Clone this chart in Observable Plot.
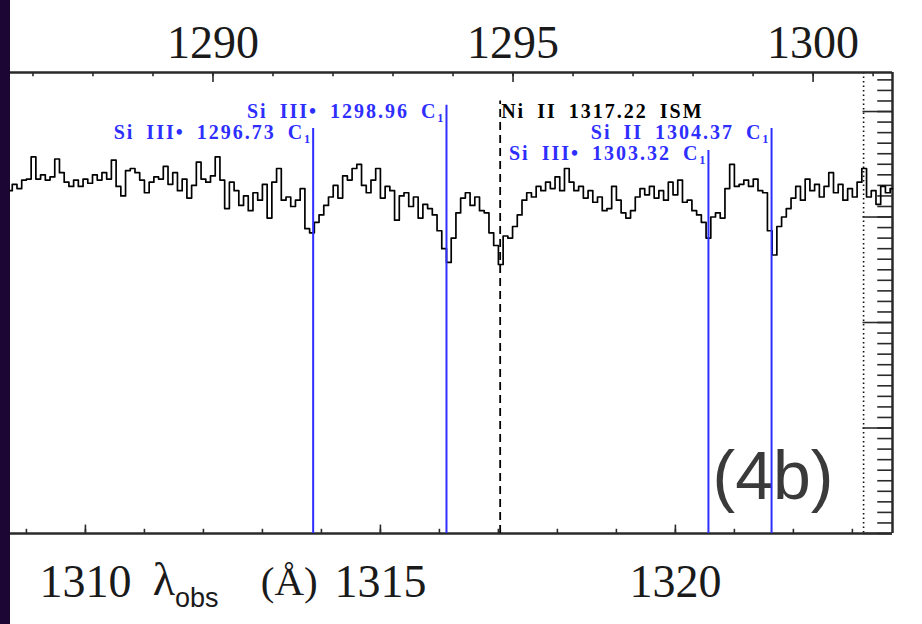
<!DOCTYPE html>
<html><head><meta charset="utf-8">
<script src="https://cdn.jsdelivr.net/npm/d3@7"></script>
<script src="https://cdn.jsdelivr.net/npm/@observablehq/plot@0.6"></script>
<style>
html,body{margin:0;padding:0;background:#1c0633;width:922px;height:624px;overflow:hidden}
#wrap{position:absolute;left:10px;top:0;width:912px;height:624px;background:#fff}
</style></head><body><div id="wrap"></div>
<script>
// ---- data ----
const lambdaStart = 1308.72;   // observed wavelength of first pixel (Å)
const lambdaStep = 0.08;       // dispersion (Å / pixel)
const flux = [
3.25,3.31,3.27,3.35,3.36,3.57,3.36,3.40,3.35,3.38,
3.55,3.42,3.33,3.29,3.35,3.29,3.36,3.32,3.40,3.35,
3.42,3.36,3.54,3.29,3.20,3.44,3.46,3.42,3.35,3.23,
3.33,3.38,3.36,3.48,3.31,3.42,3.25,3.36,3.18,3.30,
3.52,3.36,3.33,3.39,3.57,3.35,3.08,3.33,3.25,3.11,
3.20,3.06,3.23,3.16,3.31,2.99,3.33,3.46,3.16,3.19,
3.10,3.16,3.27,2.89,2.85,2.95,3.02,3.11,3.19,3.30,
3.18,3.39,3.35,3.46,3.50,3.30,3.23,3.35,3.46,3.18,
3.29,3.25,2.97,3.20,3.23,3.10,3.19,2.99,3.12,3.08,
3.02,2.87,2.70,2.57,2.80,3.04,3.18,3.23,3.11,3.19,
3.06,3.04,2.85,2.73,2.55,2.82,2.80,2.91,3.02,3.16,
3.23,3.19,3.29,3.25,3.33,3.27,3.38,3.25,3.46,3.33,
3.25,3.29,3.18,3.25,3.14,3.19,3.06,3.08,3.29,3.16,
3.04,2.99,3.06,3.19,3.27,3.21,3.29,3.18,3.25,3.16,
3.33,3.21,3.35,3.14,3.16,3.06,3.02,2.95,2.80,3.00,
3.04,2.99,3.27,3.50,3.29,3.31,3.35,3.29,3.36,3.25,
3.23,2.87,2.64,2.91,3.00,3.08,3.18,3.29,3.16,3.36,
3.25,3.31,3.19,3.29,3.42,3.23,3.31,3.16,3.27,3.19,
3.33,3.46,3.19,3.25,3.12,3.29,3.23,3.27
];
const lineSpecies = ["Si III\u2022", "Si III\u2022", "Ni II", "Si III\u2022", "Si II"];
const lineRest    = ["1296.73", "1298.96", "1317.22", "1303.32", "1304.37"];
const lineComp    = ["C\u2081", "C\u2081", "ISM", "C\u2081", "C\u2081"];
const lineObs     = [1313.86, 1316.12, 1317.03, 1320.56, 1321.63];
const dataEdge    = [1323.19];
const bottomMajor = [1310, 1315, 1320];
const bottomMinor = [1309,1310,1311,1312,1313,1314,1315,1316,1317,1318,1319,1320,1321,1322,1323];
const topMajor    = [1290, 1295, 1300];
const topMinor    = [1287,1288,1289,1290,1291,1292,1293,1294,1295,1296,1297,1298,1299,1300,1301];
const zTop = 0.01718;            // redshift of the upper (rest-frame) axis
const panelLabel = ["(4b)"];

// ---- layout ----
const xDomain = [1308.73, 1323.68];
const yDomain = [0, 4.37];
const xMax = xDomain[1], yMax = yDomain[1];
const yMajor = [0, 1, 2, 3, 4];
const yMinor = d3.range(0, 4.36, 0.1);
// label tiers (baseline and line-top in flux units)
const labelBase = [3.744, 3.943, 3.943, 3.536, 3.744];
const lineTop   = [3.84, 4.06, 4.10, 3.63, 3.84];

const spectrum = flux.map((f, i) => ({wave: lambdaStart + i * lambdaStep, flux: f}));
const lines = lineObs.map((w, i) => ({
  wave: w, label: `${lineSpecies[i]} ${lineRest[i]} ${lineComp[i]}`,
  ism: lineComp[i] === "ISM", base: labelBase[i], top: lineTop[i]
}));

const blue = "#2e2eff";
const serif = "'Liberation Serif', 'DejaVu Serif', serif";
const axisCol = "#2a2a2a";

const chart = Plot.plot({
  width: 912, height: 624,
  marginLeft: 0, marginRight: 30, marginTop: 72, marginBottom: 91,
  x: {domain: xDomain, axis: null},
  y: {domain: yDomain, axis: null},
  style: {background: "white", overflow: "visible"},
  marks: [
    Plot.text(panelLabel, {text: d => d, frameAnchor: "bottom-right", textAnchor: "end", lineAnchor: "bottom",
      dx: -59, dy: -35, fontSize: 68, fill: "#3a3a3a", fontFamily: "'Liberation Sans', Arial, sans-serif"}),
    Plot.ruleX(dataEdge, {x: d => d, stroke: "#111", strokeWidth: 1.6, strokeDasharray: "1.5,3"}),
    Plot.ruleX(bottomMinor, {x: d => d, y1: 0, y2: 0.04, stroke: axisCol, strokeWidth: 1.6}),
    Plot.ruleX(bottomMajor, {x: d => d, y1: 0, y2: 0.08, stroke: axisCol, strokeWidth: 1.6}),
    Plot.ruleX(topMinor, {x: d => d * (1 + zTop), y1: yMax, y2: yMax - 0.04, stroke: axisCol, strokeWidth: 1.6}),
    Plot.ruleX(topMajor, {x: d => d * (1 + zTop), y1: yMax, y2: yMax - 0.095, stroke: axisCol, strokeWidth: 1.6}),
    Plot.ruleY(yMinor, {y: d => d, x1: xMax - 0.25, x2: xMax, stroke: axisCol, strokeWidth: 1.6}),
    Plot.ruleY(yMajor, {y: d => d, x1: xMax - 0.5, x2: xMax, stroke: axisCol, strokeWidth: 1.6}),
    Plot.ruleY([0, yMax], {stroke: axisCol, strokeWidth: 2.5}),
    Plot.ruleX([xMax], {stroke: axisCol, strokeWidth: 2.5}),
    Plot.line(spectrum, {x: "wave", y: "flux", curve: "step", stroke: "#000", strokeWidth: 1.7}),
    Plot.ruleX(lines.filter(d => !d.ism), {x: "wave", y1: 0, y2: "top", stroke: blue, strokeWidth: 2}),
    Plot.ruleX(lines.filter(d => d.ism), {x: "wave", y1: 0, y2: "top", stroke: "#000", strokeWidth: 1.8, strokeDasharray: "8,5"}),
    Plot.text(lines.filter(d => !d.ism), {x: "wave", y: "base", text: "label", textAnchor: "end", lineAnchor: "bottom",
      dx: -1, fill: blue, fontWeight: "bold", fontSize: 20, fontFamily: serif}),
    Plot.text(lines.filter(d => d.ism), {x: "wave", y: "base", text: "label", textAnchor: "start", lineAnchor: "bottom",
      dx: 1, fill: "#000", fontWeight: "bold", fontSize: 20, fontFamily: serif}),
    Plot.text(bottomMajor, {x: d => d, text: d => String(d), frameAnchor: "bottom", lineAnchor: "bottom", dy: 63,
      fontSize: 46, fill: "#1a1a1a", fontFamily: serif}),
    Plot.text(topMajor, {x: d => d * (1 + zTop), text: d => String(d), frameAnchor: "top", lineAnchor: "bottom", dy: -15,
      fontSize: 46, fill: "#1a1a1a", fontFamily: serif})
  ]
});

const svg = d3.select(chart);
svg.selectAll("text").filter(function(){ return this.textContent.includes("C\u2081") || this.textContent.includes("ISM"); })
  .style("letter-spacing", "2px").style("word-spacing", "5px");

// axis title with subscript
const xs = chart.scale("x");
const t = svg.append("text").attr("x", xs.apply(1311.15)).attr("y", 595).attr("text-anchor", "start")
  .attr("font-family", "'Liberation Serif', 'DejaVu Serif', serif").attr("font-size", 46).attr("fill", "#1a1a1a");
t.append("tspan").text("\u03bb");
t.append("tspan").attr("font-size", 27).attr("dy", 12).attr("font-family", "'Liberation Sans', Arial, sans-serif").text("obs");
t.append("tspan").attr("x", xs.apply(1312.98)).attr("dy", -12).attr("font-size", 41).text("(\u00c5)");

document.getElementById("wrap").appendChild(chart);
</script>
</body></html>
